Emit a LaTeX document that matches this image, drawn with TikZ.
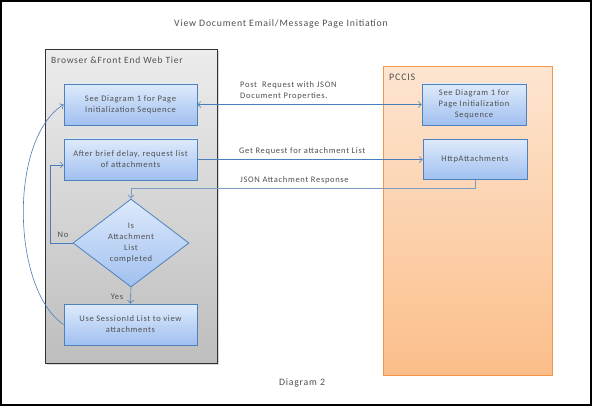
\documentclass[tikz,border=0pt]{standalone}
\usepackage{fontspec}
\setmainfont{Carlito}[LetterSpace=8]
\usetikzlibrary{arrows.meta,shapes.geometric,shadows}
\definecolor{txt}{RGB}{80,80,80}
\definecolor{conn}{RGB}{74,126,187}
\definecolor{resp}{RGB}{125,155,195}
\definecolor{boxtop}{RGB}{222,234,251}
\definecolor{boxbot}{RGB}{160,192,240}
\definecolor{boxline}{RGB}{79,129,189}
\definecolor{graytop}{RGB}{236,236,236}
\definecolor{graybot}{RGB}{190,190,190}
\definecolor{orline}{RGB}{247,150,70}
\definecolor{ortop}{RGB}{253,229,209}
\definecolor{orbot}{RGB}{251,190,138}
\tikzset{
  smalltext/.style={font=\fontsize{8.5}{11}\selectfont, text=txt},
  box/.style={draw=boxline, line width=0.8pt, top color=boxtop, bottom color=boxbot,
    smalltext, align=center, inner sep=2pt,
    drop shadow={shadow xshift=1pt, shadow yshift=-1pt, opacity=0.35}},
  decision/.style={diamond, draw=boxline, line width=0.8pt, top color=boxtop, bottom color=boxbot,
    smalltext, align=center, inner sep=0pt, minimum width=116pt, minimum height=88pt},
  link/.style={draw=conn, line width=0.6pt, -{Straight Barb[length=3pt,width=6pt]}},
  rlink/.style={draw=resp, line width=0.9pt, -{Straight Barb[length=3pt,width=6pt]}},
  lbl/.style={smalltext, inner sep=0pt},
  tierlbl/.style={font=\fontsize{9.5}{12}\selectfont, text=txt, inner sep=0pt, anchor=west},
}
\begin{document}
\begin{tikzpicture}[x=1pt,y=-1pt]
\useasboundingbox (0,0) rectangle (592,406);
\fill[white] (0,0) rectangle (592,406);
\draw[black, line width=1.2pt] (1,1) rectangle (591,405);

\node[font=\fontsize{9.8}{12}\selectfont, text=txt] (title) at (281,24) {View Document Email/Message Page Initiation};

% tiers
\path[draw=black!80, line width=1pt, top color=graytop, bottom color=graybot,
  drop shadow={shadow xshift=1.5pt, shadow yshift=-1.5pt, opacity=0.3}] (45,50) rectangle (217,363);
\node[tierlbl] (browserlbl) at (51,60) {Browser \&Front End Web Tier};
\path[draw=orline, line width=1pt, top color=ortop, bottom color=orbot,
  drop shadow={shadow xshift=1pt, shadow yshift=-1pt, opacity=0.2}] (383,67) rectangle (552,375);
\node[tierlbl, font=\fontsize{10}{12}\selectfont] (pccislbl) at (389,77) {PCCIS};

% nodes
\node[box, minimum width=133pt, minimum height=41pt] (A) at (130.5,104.5) {See Diagram 1 for Page\\Initialization Sequence};
\node[box, minimum width=133pt, minimum height=41pt] (B) at (130.5,159.5) {After brief delay, request list\\of attachments};
\node[decision] (D) at (131,243) {Is\\Attachment\\List\\completed};
\node[box, minimum width=133pt, minimum height=41pt] (C) at (130.5,324.5) {Use SessionId List to view\\attachments};
\node[box, minimum width=104pt, minimum height=41pt] (P) at (474,104.5) {See Diagram 1 for\\Page Initialization\\Sequence};
\node[box, minimum width=104pt, minimum height=40pt] (H) at (475,159.5) {HttpAttachments};

% connectors
\draw[link, {Straight Barb[length=3pt,width=6pt]}-{Straight Barb[length=3pt,width=6pt]}] (A.east) -- (P.west);
\node[lbl, anchor=west, align=left] (postlbl) at (240,90.5) {Post~ Request with JSON\\Document Properties.};
\draw[link] (B.east) -- (H.west);
\node[lbl, anchor=west] (getlbl) at (239,151) {Get Request for attachment List};
\coordinate (r1) at (475,188);
\coordinate (r2) at (131,188);
\draw[rlink] (H.south) -- (r1) -- (r2) -- (D.north);
\node[lbl, anchor=west] (resplbl) at (240,180) {JSON Attachment Response};
\coordinate (n1) at (50,243);
\coordinate (n2) at (50,165);
\draw[link] (D.west) -- (n1) -- (n2) -- ([yshift=-5.5pt]B.west);
\node[lbl] (nolbl) at (63,235) {No};
\draw[link] (D.south) -- (C.north);
\node[lbl] (yeslbl) at (117,297) {Yes};
\draw[link] (C.west) .. controls (12,290) and (8,140) .. (A.west);

\node[font=\fontsize{9.8}{12}\selectfont, text=txt] (diag) at (302,383) {Diagram 2};
\end{tikzpicture}
\end{document}
